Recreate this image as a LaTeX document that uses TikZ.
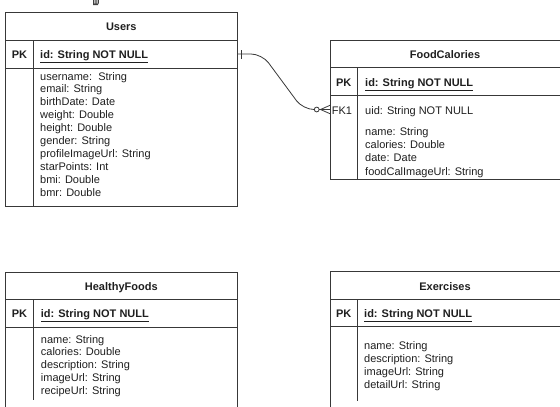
\documentclass[tikz,border=0pt]{standalone}
\usepackage{fontspec}
\setmainfont{Liberation Sans}
\begin{document}
\begin{tikzpicture}[x=1pt,y=-1pt,
  frame/.style={draw=black!78,line width=0.9pt},
  field/.style={inner sep=0pt,anchor=base west,text=black!88,font=\fontsize{11}{13}\selectfont},
  title/.style={inner sep=0pt,anchor=base,text=black!88,font=\fontsize{11}{13}\selectfont\bfseries},
  keyfield/.style={field,font=\fontsize{11}{13}\selectfont\bfseries},
  keylabel/.style={inner sep=0pt,anchor=base,text=black!88,font=\fontsize{11}{13}\selectfont\bfseries},
  fklabel/.style={inner sep=0pt,anchor=base,text=black!88,font=\fontsize{11}{13}\selectfont},
  relation/.style={draw=black!78,line width=0.8pt}]
\useasboundingbox (0,0) rectangle (560,407);
\clip (0,0) rectangle (560,407);

% small pointer glyph at the top
\fill[black!75] (93,0) rectangle (94.3,4.5) (95.3,0) rectangle (96.6,4.5)
  (97.6,0) rectangle (98.8,3.5) (93,3.5) rectangle (98,5.2);

% ---------------- Users ----------------
\draw[frame] (5.7,12.3) rectangle (237,206);
\draw[frame] (5.7,40) -- (237,40) (5.7,68.3) -- (237,68.3) (33.3,40) -- (33.3,206);
\node[title] (usersT) at (121.3,30.7) {Users};
\node[keylabel] (usersPK) at (19.5,58.3) {PK};
\node[keyfield] (usersId) at (40,58.3) {\underline{id: String NOT NULL}};
\foreach \t [count=\i from 0] in {username:~~String,email: String,birthDate: Date,
  weight: Double,height: Double,gender: String,profileImageUrl: String,
  starPoints: Int,bmi: Double,bmr: Double}
  \node[field] (usersF\i) at (40,80+\i*12.92) {\t};

% ---------------- FoodCalories ----------------
\draw[frame] (330,40) rectangle (560.5,179);
\draw[frame] (330,67.3) -- (561,67.3) (330,95.7) -- (561,95.7) (357.3,67.3) -- (357.3,179);
\node[title] (foodT) at (445,58.3) {FoodCalories};
\node[keylabel] (foodPK) at (343.7,86.3) {PK};
\node[keyfield] (foodId) at (365,86.3) {\underline{id: String NOT NULL}};
\node[fklabel] (foodFK) at (342,114) {FK1};
\node[field] (foodUid) at (365,114) {uid: String NOT NULL};
\foreach \t [count=\i from 0] in {name: String,calories: Double,date: Date,foodCalImageUrl: String}
  \node[field] (foodF\i) at (365,135+\i*13.43) {\t};

% ---------------- HealthyFoods ----------------
\draw[frame] (5.7,410) -- (5.7,272.3) -- (237,272.3) -- (237,410);
\draw[frame] (5.7,299.3) -- (237,299.3) (5.7,327.3) -- (237,327.3) (33.3,299.3) -- (33.3,400);
\node[title] (healthyT) at (121.3,290) {HealthyFoods};
\node[keylabel] (healthyPK) at (19.5,317.3) {PK};
\node[keyfield] (healthyId) at (40.7,317.3) {\underline{id: String NOT NULL}};
\foreach \t [count=\i from 0] in {name: String,calories: Double,description: String,
  imageUrl: String,recipeUrl: String}
  \node[field] (healthyF\i) at (40.7,343+\i*12.75) {\t};

% ---------------- Exercises ----------------
\draw[frame] (330,410) -- (330,271.7) -- (561,271.7);
\draw[frame] (330,299.3) -- (561,299.3) (330,326.7) -- (561,326.7) (357.7,299.3) -- (357.7,400.7);
\node[title] (exT) at (445,290) {Exercises};
\node[keylabel] (exPK) at (343.8,317) {PK};
\node[keyfield] (exId) at (364,317) {\underline{id: String NOT NULL}};
\foreach \t [count=\i from 0] in {name: String,description: String,imageUrl: String,detailUrl: String}
  \node[field] (exF\i) at (364,349+\i*13) {\t};

% ---------------- relation Users.id -> FoodCalories.uid ----------------
\coordinate (relU) at (237,54);
\coordinate (relF) at (330,109.5);
\coordinate (relC) at (316.7,109.5);
\draw[relation,rounded corners=11pt] (relU) -- (262,54) -- (303,109.5) -- ([xshift=-2.4pt]relC);
% one side: single bar
\draw[relation] ([xshift=4pt,yshift=-4.5pt]relU) -- ([xshift=4pt,yshift=4.5pt]relU);
% many side: circle and crow's foot
\draw[relation] (relC) circle (2.4);
\draw[relation] ([xshift=2.4pt]relC) -- (relF);
\draw[relation] ([xshift=-9.5pt]relF) -- ([yshift=-4.2pt]relF)
  ([xshift=-9.5pt]relF) -- ([yshift=4.2pt]relF);
\end{tikzpicture}
\end{document}
